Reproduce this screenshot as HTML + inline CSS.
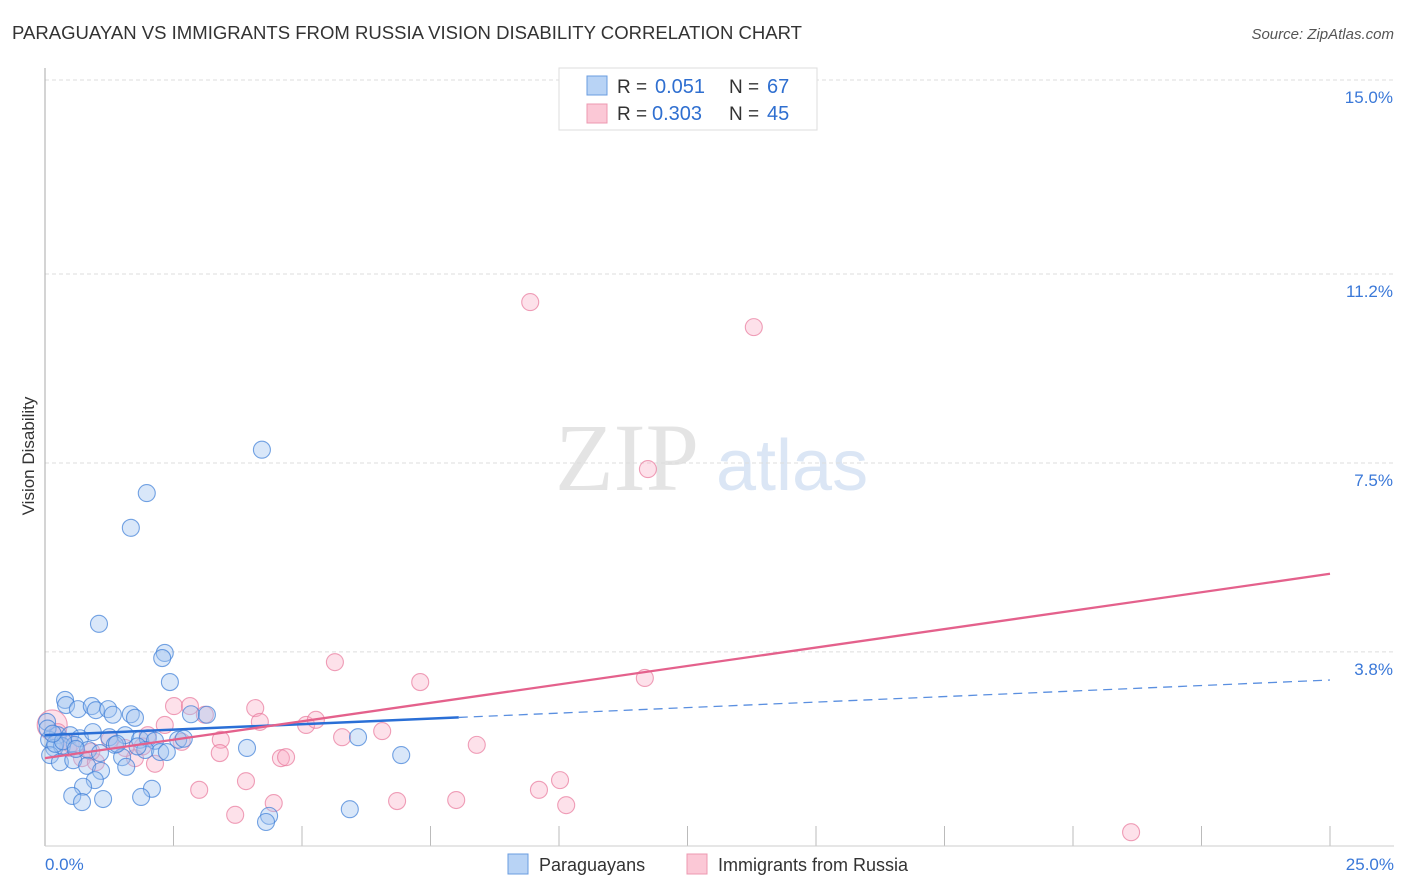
<!DOCTYPE html>
<html><head><meta charset="utf-8"><style>
html,body{margin:0;padding:0;background:#fff;width:1406px;height:892px;overflow:hidden;font-family:"Liberation Sans",sans-serif;}
</style></head><body>
<svg id="chart" width="1406" height="892" xmlns="http://www.w3.org/2000/svg" font-family="Liberation Sans, sans-serif">
<text x="12" y="39" font-size="18" fill="#333" textLength="790" lengthAdjust="spacingAndGlyphs">PARAGUAYAN VS IMMIGRANTS FROM RUSSIA VISION DISABILITY CORRELATION CHART</text>
<text x="1394" y="39" font-size="15" fill="#555" font-style="italic" text-anchor="end">Source: ZipAtlas.com</text>
<g>
<text x="555" y="490" font-size="96" fill="#e4e4e4" font-family="Liberation Serif, serif">ZIP</text>
<text x="716" y="490" font-size="72" fill="#dbe6f5">atlas</text>
</g>
<g id="grid"></g>
<line x1="45" y1="68" x2="45" y2="846" stroke="#aaa" stroke-width="1"/>
<line x1="45" y1="846" x2="1394" y2="846" stroke="#ccc" stroke-width="1"/>
<text x="34" y="456" font-size="17" fill="#333" text-anchor="middle" transform="rotate(-90 34 456)">Vision Disability</text>
<g id="points"></g>
<g id="trends"></g>
<g>
<rect x="559" y="68" width="258" height="62" fill="#fff" stroke="#ddd"/>
<rect x="587" y="76" width="20" height="19" fill="#b8d3f5" stroke="#6a9de0"/>
<rect x="587" y="104" width="20" height="19" fill="#fbc8d6" stroke="#ec98b0"/>
<text x="617" y="93" font-size="19" fill="#333">R =</text>
<text x="655" y="93" font-size="20" fill="#2f6fd0">0.051</text>
<text x="729" y="93" font-size="19" fill="#333">N =</text>
<text x="767" y="93" font-size="20" fill="#2f6fd0">67</text>
<text x="617" y="120" font-size="19" fill="#333">R =</text>
<text x="652" y="120" font-size="20" fill="#2f6fd0">0.303</text>
<text x="729" y="120" font-size="19" fill="#333">N =</text>
<text x="767" y="120" font-size="20" fill="#2f6fd0">45</text>
</g>
<g>
<rect x="508" y="854" width="20" height="20" fill="#b8d3f5" stroke="#6a9de0"/>
<text x="539" y="871" font-size="18" fill="#333">Paraguayans</text>
<rect x="687" y="854" width="20" height="20" fill="#fbc8d6" stroke="#ec98b0"/>
<text x="718" y="871" font-size="18" fill="#333">Immigrants from Russia</text>
</g>
</svg>
<script>
const yTicks=[15.0,11.2,7.5,3.8];
const yTickLabels=["15.0%","11.2%","7.5%","3.8%"];
const xTicks=[0,2.5,5,7.5,10,12.5,15,17.5,20,22.5,25];
const xEndLabels=["0.0%","25.0%"];
const paraX=[4.22,1.98,1.67,1.05,2.33,2.28,2.43,0.39,0.41,0.64,0.91,0.99,1.23,1.32,1.67,1.75,2.84,3.15,0.04,0.25,0.49,0.68,0.93,1.25,1.56,1.85,2.0,2.14,2.59,0.08,0.18,0.33,0.58,0.84,1.07,1.36,1.95,2.24,2.37,1.5,0.1,0.29,0.55,0.82,1.58,1.09,0.97,0.74,0.53,0.72,1.13,2.08,1.87,3.93,6.09,6.93,5.93,4.36,4.3,0.2,0.35,0.6,1.4,1.8,2.7,0.05,0.15];
const paraY=[7.76,6.91,6.23,4.35,3.78,3.68,3.21,2.86,2.76,2.68,2.74,2.66,2.68,2.57,2.58,2.51,2.58,2.57,2.43,2.17,2.17,2.11,2.23,2.13,2.17,2.08,2.11,2.06,2.08,2.08,1.92,1.96,1.98,1.88,1.82,1.98,1.88,1.84,1.84,1.74,1.78,1.64,1.68,1.57,1.55,1.47,1.29,1.16,0.98,0.86,0.92,1.12,0.96,1.92,2.13,1.78,0.72,0.59,0.47,2.0,2.05,1.9,2.0,1.95,2.1,2.3,2.2];
const rusX=[9.44,13.79,11.73,5.64,7.3,11.67,4.09,2.51,2.82,3.11,2.33,4.18,5.08,5.27,6.56,5.78,8.4,2.66,3.42,3.4,4.59,4.69,1.75,2.14,1.26,1.56,0.14,0.45,0.72,0.99,3.91,3.0,4.45,3.7,6.85,8.0,10.02,9.61,10.14,21.13,2.0,0.25,0.9,1.9,0.5];
const rusY=[10.65,10.16,7.38,3.6,3.21,3.29,2.7,2.74,2.74,2.57,2.37,2.43,2.37,2.47,2.25,2.13,1.98,2.04,2.08,1.82,1.72,1.74,1.72,1.61,2.08,1.92,2.37,1.92,1.72,1.64,1.27,1.1,0.84,0.61,0.88,0.9,1.29,1.1,0.8,0.27,2.17,2.23,1.85,1.95,2.0];
const paraTrend=[2.17,3.25];
const paraSolidEnd=8.05;
const rusTrend=[1.72,5.33];
const NS="http://www.w3.org/2000/svg";
const X=v=>45+v*51.4;
const Y=v=>846-v*51.07;
function mk(tag,attrs,parent){const e=document.createElementNS(NS,tag);for(const k in attrs)e.setAttribute(k,attrs[k]);parent.appendChild(e);return e;}
const grid=document.getElementById('grid');
yTicks.forEach((t,i)=>{
 const l=mk('line',{x1:45,x2:1394,y1:Y(t),y2:Y(t),stroke:'#ddd','stroke-dasharray':'4,3'},grid);
 
 
 const tx=mk('text',{x:1393,y:Y(t)+23,'font-size':17,fill:'#3a78d8','text-anchor':'end'},grid);
 tx.textContent=yTickLabels[i];
 
 
});
xTicks.forEach(t=>{
 const l=mk('line',{x1:X(t),x2:X(t),y1:826,y2:846,stroke:'#bbb'},grid);
 
 
});
[[0,'start',45],[25,'end',1394]].forEach((d,i)=>{
 const tx=mk('text',{x:d[2],y:870,'font-size':17,fill:'#3a78d8','text-anchor':d[1]},grid);
 tx.textContent=xEndLabels[i];
 
 
});
const pts=document.getElementById('points');
rusX.forEach((x,i)=>{
 const c=mk('circle',{cx:X(x),cy:Y(rusY[i]),r:i==26?15:8.5,fill:'rgba(248,170,195,0.35)',stroke:'rgba(232,120,155,0.7)','stroke-width':1.1},pts);
 
 
});
paraX.forEach((x,i)=>{
 const c=mk('circle',{cx:X(x),cy:Y(paraY[i]),r:8.5,fill:'rgba(160,195,240,0.4)',stroke:'rgba(60,125,215,0.7)','stroke-width':1.1},pts);
 
 
});
const tr=document.getElementById('trends');
const pAt=v=>paraTrend[0]+(paraTrend[1]-paraTrend[0])*v/25;
let l1=mk('line',{x1:X(0),y1:Y(pAt(0)),x2:X(paraSolidEnd),y2:Y(pAt(paraSolidEnd)),stroke:'#2a6fd6','stroke-width':2.5},tr);


let l2=mk('line',{x1:X(paraSolidEnd),y1:Y(pAt(paraSolidEnd)),x2:X(25),y2:Y(pAt(25)),stroke:'#5a8fe0','stroke-width':1.3,'stroke-dasharray':'9,6'},tr);


let l3=mk('line',{x1:X(0),y1:Y(rusTrend[0]),x2:X(25),y2:Y(rusTrend[1]),stroke:'#e4618c','stroke-width':2.3},tr);


</script>
</body></html>
